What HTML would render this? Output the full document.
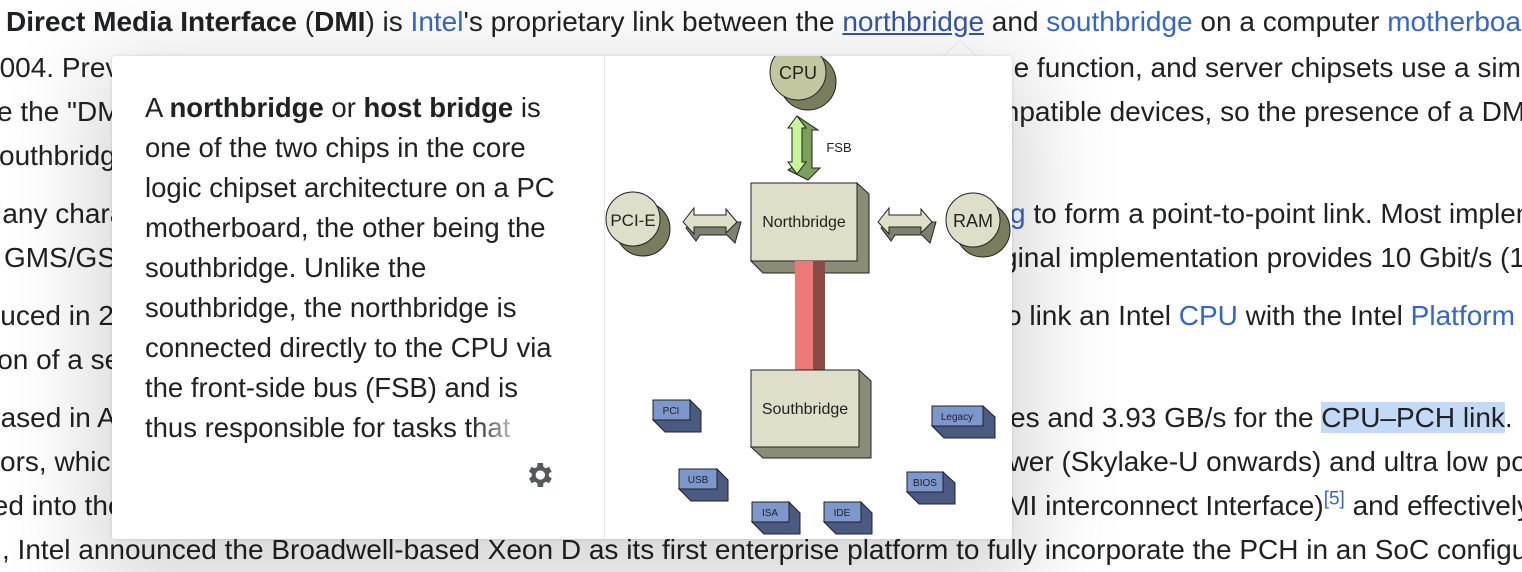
<!DOCTYPE html>
<html><head><meta charset="utf-8">
<style>
html,body{margin:0;padding:0;width:1522px;height:572px;overflow:hidden;background:#fff;font-family:"Liberation Sans",Arial,sans-serif;color:#202122;}
#w{position:relative;width:1522px;height:572px;overflow:hidden;}
.l{position:absolute;font-size:28px;line-height:28px;white-space:nowrap;}
.b{font-weight:bold}
a,.a{color:#3366cc;text-decoration:none}
.u{text-decoration:underline;color:#3355aa}
#pop{position:absolute;left:112px;top:56px;width:900px;height:483px;background:#fff;border-radius:3px;box-shadow:0 30px 90px 20px rgba(0,0,0,0.16),0 0 3px rgba(0,0,0,0.15);overflow:hidden;}
#tri{position:absolute;left:943px;top:42px;width:0;height:0;border-left:17px solid transparent;border-right:17px solid transparent;border-bottom:15px solid #fff;filter:drop-shadow(0 -1px 1px rgba(0,0,0,0.08));}
.pt{position:absolute;left:33px;top:32px;font-size:27.5px;line-height:40px;color:#202122;white-space:nowrap;}
.fade{position:absolute;width:70px;height:40px;background:linear-gradient(to right,rgba(255,255,255,0),#fff 80%);}
#div{position:absolute;left:492px;top:0;width:1px;height:483px;background:#e6e6e6;}
</style></head><body><div id="w">
<div class="l" style="left:6px;top:8px"><span class="b">Direct Media Interface</span> (<span class="b">DMI</span>) is <a>Intel</a>'s proprietary link between the <span class="u">northbridge</span> and <a>southbridge</a> on a computer <a>motherboard</a></div>
<div class="l" style="left:-16px;top:54px">2004. Previously</div>
<div class="l" style="left:-17px;top:98px">se the "DMI</div>
<div class="l" style="left:-15px;top:142px">southbridge</div>
<div class="l" style="left:-21px;top:200px">Many characteristics</div>
<div class="l" style="left:4px;top:244px">GMS/GSE</div>
<div class="l" style="left:-48px;top:302px">troduced in 2008</div>
<div class="l" style="left:-9px;top:346px">ion of a separate</div>
<div class="l" style="left:-15px;top:404px">eased in August</div>
<div class="l" style="left:-14px;top:448px">sors, which</div>
<div class="l" style="left:-15px;top:492px">ted into the</div>
<div class="l" style="left:2px;top:536px">, Intel announced the Broadwell-based Xeon D as its first enterprise platform to fully incorporate the PCH in an SoC configuration</div>

<div class="l" style="left:998px;top:54px">he function, and server chipsets use a similar</div>
<div class="l" style="left:996px;top:98px">mpatible devices, so the presence of a DMI</div>
<div class="l" style="left:1010px;top:200px"><a>g</a> to form a point-to-point link. Most implementations</div>
<div class="l" style="left:1002px;top:244px">ginal implementation provides 10 Gbit/s (1</div>
<div class="l" style="left:1006px;top:302px">o link an Intel <a>CPU</a> with the Intel <a>Platform Controller</a></div>
<div class="l" style="left:996px;top:404px">ces and 3.93 GB/s for the <span style="background:#c3daf6">CPU–PCH link</span>. It</div>
<div class="l" style="left:993px;top:448px">ower (Skylake-U onwards) and ultra low power</div>
<div class="l" style="left:986px;top:492px">DMI interconnect Interface)<sup style="font-size:19px;line-height:0;color:#3366cc">[5]</sup> and effectively</div>

<div id="tri"></div>
<div id="pop">
<div class="pt">A <b>northbridge</b> or <b>host bridge</b> is<br>one of the two chips in the core<br>logic chipset architecture on a PC<br>motherboard, the other being the<br>southbridge. Unlike the<br>southbridge, the northbridge is<br>connected directly to the CPU via<br>the front-side bus (FSB) and is<br>thus responsible for tasks that</div>
<div class="fade" style="left:360px;top:354px"></div>
<svg style="position:absolute;left:411px;top:403px" width="32" height="32" viewBox="0 0 24 24"><path fill="#54595d" d="M19.4 13a7.5 7.5 0 0 0 0-2l2.1-1.6-2-3.5-2.5 1a7.6 7.6 0 0 0-1.7-1L15 3h-4l-.4 2.9a7.6 7.6 0 0 0-1.7 1l-2.5-1-2 3.5L6.6 11a7.5 7.5 0 0 0 0 2l-2.1 1.6 2 3.5 2.5-1a7.6 7.6 0 0 0 1.7 1L11 21h4l.4-2.9a7.6 7.6 0 0 0 1.7-1l2.5 1 2-3.5zM13 15.5a3.5 3.5 0 1 1 0-7 3.5 3.5 0 0 1 0 7z"/></svg>
<div id="div"></div>
<svg style="position:absolute;left:-112px;top:-56px" width="1522" height="572" font-family="Liberation Sans, Arial, sans-serif">
<g stroke="#222" stroke-width="1">
<circle cx="808" cy="82" r="28" fill="#7a7c5e"/>
<circle cx="798" cy="72" r="28" fill="#c4c6a0"/>
<circle cx="643" cy="229" r="27" fill="#7a7c5e"/>
<circle cx="633" cy="219" r="27" fill="#dfdfc9"/>
<circle cx="983" cy="230" r="27" fill="#7a7c5e"/>
<circle cx="973" cy="220" r="27" fill="#dfdfc9"/>
<polygon fill="#7aa05a" points="797,116 818,130 812,130 812,168 820,168 808,180 788,170 802,160 802,128 806,128"/>
<polygon fill="#c8f598" points="797,116 806,128 802,128 802,162 806,162 797,174 788,162 792,162 792,128 788,128"/>
<polygon fill="#7f8170" points="693,222 741,222 735,243 727,235 700,235 696,241 686,228"/>
<polygon fill="#e0e0c8" points="683,222 694,208 694,215 726,215 726,209 737,222 726,233 726,227 694,227 694,234"/>
<polygon fill="#7f8170" points="887,222 936,222 930,243 922,235 895,235 891,241 881,228"/>
<polygon fill="#e0e0c8" points="878,222 889,208 889,215 921,215 921,209 932,222 921,233 921,227 889,227 889,234"/>
<polygon fill="#8a8c78" points="751,261 857,261 857,183 869,194 869,273 763,273"/>
<rect x="751" y="183" width="106" height="78" fill="#dfdfc9"/>
<rect x="813" y="261" width="12" height="109" fill="#8b4a45" stroke="none"/>
<rect x="795" y="261" width="18" height="109" fill="#ee7777" stroke="none"/>
<polygon fill="#8a8c78" points="751,447 859,447 859,370 871,381 871,458 763,458"/>
<rect x="751" y="370" width="108" height="77" fill="#dfdfc9"/>
<g fill="#4a5a80">
<polygon points="653,420 690,420 690,400 701,411 701,432 665,432"/>
<polygon points="679,489 717,489 717,469 728,480 728,501 691,501"/>
<polygon points="752,522 789,522 789,502 800,513 800,534 764,534"/>
<polygon points="824,522 861,522 861,502 872,513 872,534 836,534"/>
<polygon points="907,492 943,492 943,472 955,483 955,504 919,504"/>
<polygon points="932,426 983,426 983,406 995,417 995,438 944,438"/>
</g>
<g fill="#7b97cc">
<rect x="653" y="400" width="37" height="20"/>
<rect x="679" y="469" width="38" height="20"/>
<rect x="752" y="502" width="37" height="20"/>
<rect x="824" y="502" width="37" height="20"/>
<rect x="907" y="472" width="36" height="20"/>
<rect x="932" y="406" width="51" height="20"/>
</g>
</g>
<g fill="#222" text-anchor="middle">
<text x="798" y="79" font-size="18">CPU</text>
<text x="633" y="226" font-size="17">PCI-E</text>
<text x="973" y="227" font-size="18">RAM</text>
<text x="839" y="152" font-size="13">FSB</text>
<text x="804" y="227" font-size="16">Northbridge</text>
<text x="805" y="414" font-size="16">Southbridge</text>
<g font-size="10">
<text x="671" y="414">PCI</text>
<text x="698" y="483">USB</text>
<text x="770" y="516">ISA</text>
<text x="842" y="516">IDE</text>
<text x="925" y="486">BIOS</text>
<text x="957" y="420">Legacy</text>
</g>
</g>
</svg>
</div>
</div></body></html>
